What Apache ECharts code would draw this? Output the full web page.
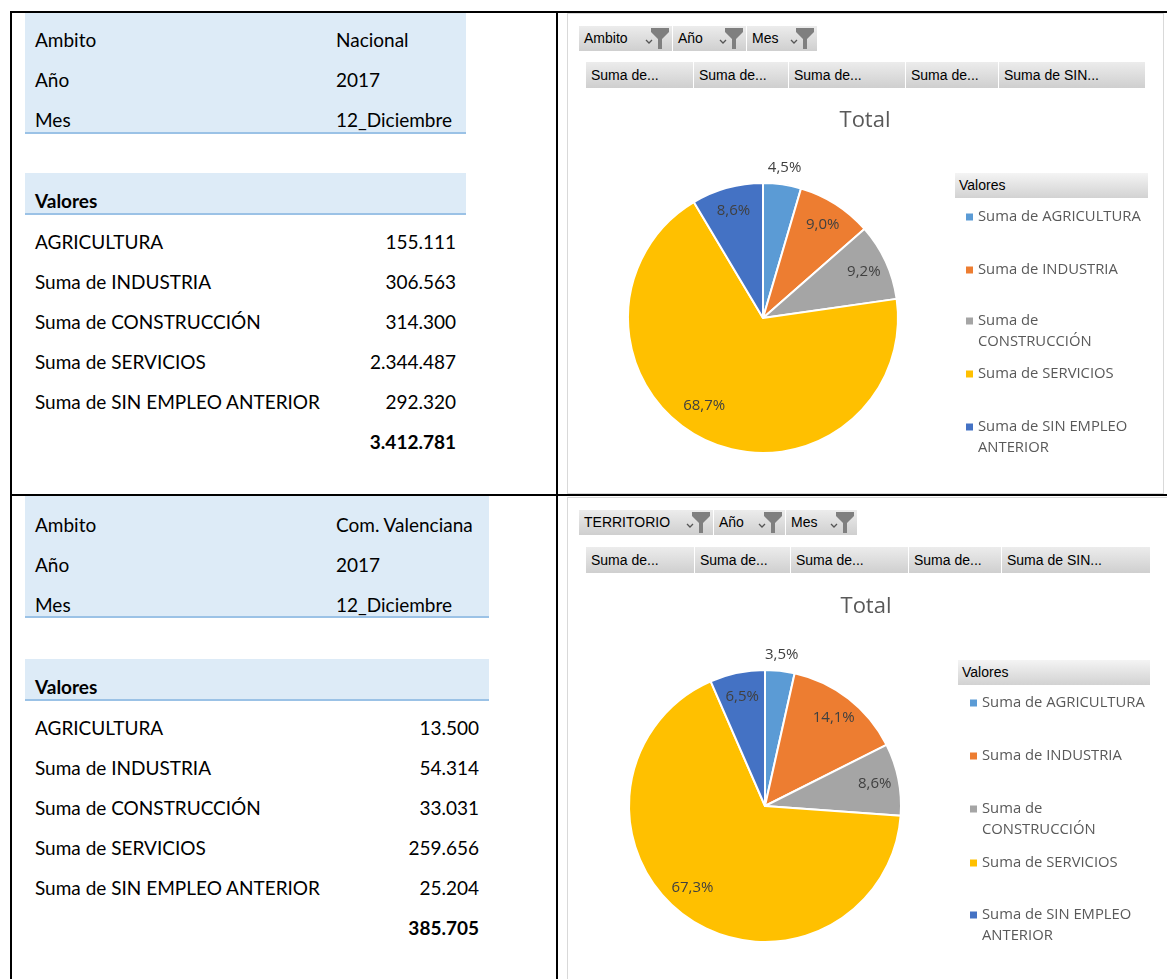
<!DOCTYPE html>
<html>
<head>
<meta charset="utf-8">
<title>Paro registrado por sectores</title>
<script src="https://cdn.jsdelivr.net/npm/echarts@6/dist/echarts.min.js"></script>
<style>
body{margin:0;background:#fff;}
#page{position:relative;width:1167px;height:979px;overflow:hidden;font-family:Lato,"Liberation Sans",sans-serif;}
.ln{position:absolute;background:#000;z-index:5;}
.panel{position:absolute;border:1px solid #d9d9d9;box-sizing:border-box;}
.chart{position:absolute;}
.blue{position:absolute;background:#ddebf7;border-bottom:2px solid #9bc2e6;}
.txt{position:absolute;font-size:19px;color:#000;line-height:22px;white-space:nowrap;}
.num{text-align:right;}
.bold{font-weight:bold;}
.btn{position:absolute;background:linear-gradient(#ececec,#cfcfcf);border-right:1px solid #fff;box-sizing:border-box;
  font-family:"Liberation Sans",sans-serif;font-size:14px;color:#000;padding-left:5px;white-space:nowrap;z-index:3;}
.btn svg{position:absolute;right:3px;top:1px;}
.hdr{position:absolute;background:linear-gradient(#f4f4f4,#d2d2d2);font-family:"Liberation Sans",sans-serif;font-size:14px;color:#000;
  padding-left:4px;box-sizing:border-box;z-index:3;}
</style>
</head>
<body>
<div id="page">
  <div id="chart1" class="chart" style="left:567px;top:13px;width:596px;height:480px;"></div>
  <div id="chart2" class="chart" style="left:567px;top:497px;width:598px;height:482px;"></div>
</div>
<script>
// datos de la tabla dinámica
const tableLabels = ['AGRICULTURA', 'Suma de INDUSTRIA', 'Suma de CONSTRUCCIÓN', 'Suma de SERVICIOS', 'Suma de SIN EMPLEO ANTERIOR'];
const seriesNames = ['Suma de AGRICULTURA', 'Suma de INDUSTRIA', 'Suma de CONSTRUCCIÓN', 'Suma de SERVICIOS', 'Suma de SIN EMPLEO ANTERIOR'];
const legendLabels = ['Suma de AGRICULTURA', 'Suma de INDUSTRIA', 'Suma de\nCONSTRUCCIÓN', 'Suma de SERVICIOS', 'Suma de SIN EMPLEO\nANTERIOR'];
const nacionalValues = [155111, 306563, 314300, 2344487, 292320];
const valencianaValues = [13500, 54314, 33031, 259656, 25204];
const nacionalFilters = [['Ambito', 'Nacional'], ['Año', '2017'], ['Mes', '12_Diciembre']];
const valencianaFilters = [['Ambito', 'Com. Valenciana'], ['Año', '2017'], ['Mes', '12_Diciembre']];
const nacionalButtons = ['Ambito', 'Año', 'Mes'];
const valencianaButtons = ['TERRITORIO', 'Año', 'Mes'];
const fieldButtons = ['Suma de...', 'Suma de...', 'Suma de...', 'Suma de...', 'Suma de SIN...'];
const sliceColors = ['#5b9bd5', '#ed7d31', '#a5a5a5', '#ffc000', '#4472c4'];

const page = document.getElementById('page');

function fmtNum(v){
  return String(v).replace(/\B(?=(\d{3})+(?!\d))/g, '.');
}
function addDiv(cls, style, text){
  const d = document.createElement('div');
  d.className = cls;
  d.setAttribute('style', style);
  if (text !== undefined) d.textContent = text;
  page.appendChild(d);
  return d;
}

// bordes de la tabla de word
addDiv('ln', 'left:10px;top:11px;width:1157px;height:2px;');
addDiv('ln', 'left:10px;top:11px;width:2px;height:968px;');
addDiv('ln', 'left:556px;top:11px;width:2px;height:968px;');
addDiv('ln', 'left:10px;top:494px;width:1157px;height:2px;');
addDiv('panel', 'left:567px;top:13px;width:597px;height:481px;');
addDiv('panel', 'left:567px;top:497px;width:602px;height:490px;');

function buildTable(filters, values, cfg){
  addDiv('blue', `left:25px;top:${cfg.top}px;width:${cfg.w}px;height:${cfg.h}px;`);
  filters.forEach((f, i) => {
    const y = cfg.rowY[i] - 11;
    addDiv('txt', `left:35px;top:${y}px;`, f[0]);
    addDiv('txt', `left:336px;top:${y}px;`, f[1]);
  });
  addDiv('blue', `left:25px;top:${cfg.valTop}px;width:${cfg.w}px;height:40px;`);
  addDiv('txt bold', `left:35px;top:${cfg.valTop + 17}px;`, 'Valores');
  let total = 0;
  values.forEach((v, i) => {
    const y = cfg.firstRow + 40 * i - 11;
    total += v;
    addDiv('txt', `left:35px;top:${y}px;`, tableLabels[i]);
    addDiv('txt num', `left:250px;width:${cfg.right - 250}px;top:${y}px;`, fmtNum(v));
  });
  addDiv('txt num bold', `left:250px;width:${cfg.right - 250}px;top:${cfg.firstRow + 200 - 11}px;`, fmtNum(total));
}

const funnel = '<svg width="24" height="22" viewBox="0 0 24 22"><path d="M1 13 L4 16 L7 13" fill="none" stroke="#555" stroke-width="1.3"/>' +
  '<path d="M6 1 H24 V5 L17 12 V22 H13 V12 L6 5 Z" fill="#7f7f7f"/></svg>';

function buildButtons(labels, xs, y){
  labels.forEach((t, i) => {
    const b = addDiv('btn', `left:${xs[i]}px;top:${y}px;width:${xs[i + 1] - xs[i]}px;height:25px;line-height:25px;`);
    b.innerHTML = t + funnel;
  });
}
function buildFields(xs, y){
  fieldButtons.forEach((t, i) => {
    addDiv('btn', `left:${xs[i]}px;top:${y}px;width:${xs[i + 1] - xs[i]}px;height:26px;line-height:26px;`, t);
  });
}

buildTable(nacionalFilters, nacionalValues, {top:12, w:441, h:120, rowY:[40, 80, 120], valTop:173, firstRow:242, right:456});
buildTable(valencianaFilters, valencianaValues, {top:496, w:464, h:120, rowY:[525, 565, 605], valTop:659, firstRow:728, right:479});

buildButtons(nacionalButtons, [579, 673, 747, 818], 26);
buildFields([586, 694, 789, 906, 999, 1146], 62);
buildButtons(valencianaButtons, [579, 714, 786, 858], 510);
buildFields([586, 695, 791, 909, 1002, 1151], 547);

addDiv('hdr', 'left:955px;top:173px;width:193px;height:25px;line-height:25px;', 'Valores');
addDiv('hdr', 'left:958px;top:660px;width:192px;height:25px;line-height:25px;', 'Valores');

function buildPie(id, values, cfg){
  const chart = echarts.init(document.getElementById(id));
  const total = values.reduce((a, b) => a + b, 0);
  const pct = p => (p.value / total * 100).toFixed(1).replace('.', ',') + '%';
  const base = seriesNames.map((n, i) => ({name: n, value: values[i]}));
  const labelFont = {fontFamily: 'Open Sans', fontSize: 15, color: '#404040'};
  const ring = {type: 'pie', center: cfg.center, startAngle: 90, silent: true, legendHoverLink: false,
    avoidLabelOverlap: false, labelLine: {show: false}, emphasis: {disabled: true}};
  chart.setOption({
    animation: false,
    color: sliceColors,
    title: {text: 'Total', left: 'center', top: cfg.titleTop,
      textStyle: {fontFamily: 'Open Sans', fontSize: 22, fontWeight: 'normal', color: '#595959'}},
    legend: seriesNames.map((n, i) => {
      const two = legendLabels[i].indexOf('\n') >= 0;
      // un salto inicial deja el icono a la altura de la primera línea
      return {
        data: [n], orient: 'vertical', left: cfg.legendLeft,
        top: cfg.legendY[i] - (two ? 31.5 : 10.5) + 2,
        padding: 0, itemWidth: 7, itemHeight: 7, icon: 'rect', selectedMode: false,
        itemStyle: {borderWidth: 0},
        formatter: () => (two ? '\n' : '') + legendLabels[i],
        textStyle: {fontFamily: 'Open Sans', fontSize: 14.8, color: '#595959', lineHeight: 21}
      };
    }),
    series: [
      Object.assign({}, ring, {radius: [0, cfg.r], label: {show: false},
        itemStyle: {borderColor: '#fff', borderWidth: 2}, data: base}),
      Object.assign({}, ring, {radius: [cfg.r * 0.6, cfg.r],
        itemStyle: {color: 'rgba(0,0,0,0)', borderWidth: 0},
        label: Object.assign({show: true, position: 'inside', formatter: pct}, labelFont),
        data: base.map((d, i) => ({name: d.name, value: d.value,
          label: {show: cfg.outer.indexOf(i) < 0, offset: cfg.shift[i] || [0, 0]}}))}),
      Object.assign({}, ring, {radius: [cfg.r, cfg.r * 1.2],
        itemStyle: {color: 'rgba(0,0,0,0)', borderWidth: 0},
        label: Object.assign({show: true, position: 'inside', formatter: pct}, labelFont),
        data: base.map((d, i) => ({name: d.name, value: d.value, label: {show: cfg.outer.indexOf(i) >= 0}}))})
    ]
  });
  return chart;
}

buildPie('chart1', nacionalValues, {center: [196, 305], r: 135, titleTop: 92, outer: [0],
  shift: {3: [-11, -12]}, legendLeft: 399, legendY: [202, 255, 306, 359, 412]});
buildPie('chart2', valencianaValues, {center: [198, 309], r: 136, titleTop: 94, outer: [0],
  shift: {3: [-8, -10]}, legendLeft: 403, legendY: [204, 257, 310, 364, 416]});
</script>
</body>
</html>
